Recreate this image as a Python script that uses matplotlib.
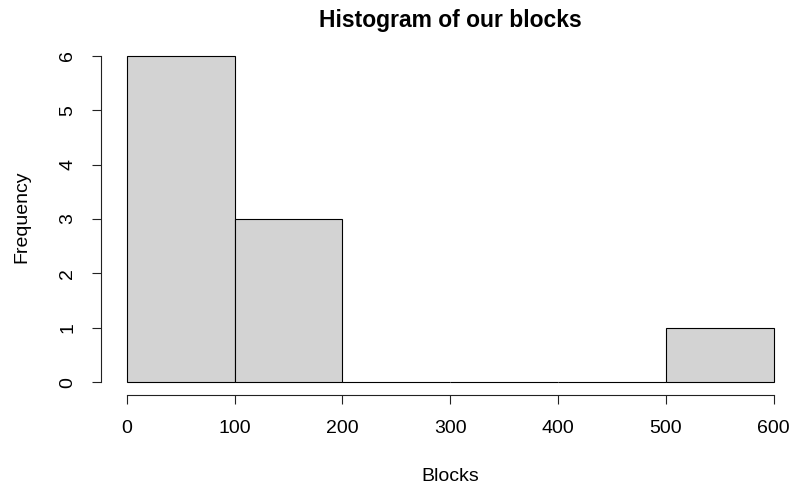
import matplotlib
matplotlib.use("Agg")
import matplotlib.pyplot as plt

bin_edges = [0, 100, 200, 300, 400, 500, 600]
counts = [6, 3, 0, 0, 0, 1]
x_ticks = [0, 100, 200, 300, 400, 500, 600]
y_ticks = [0, 1, 2, 3, 4, 5, 6]
title = "Histogram of our blocks"
xlabel = "Blocks"
ylabel = "Frequency"

plt.rcParams['font.family'] = ['Liberation Sans', 'DejaVu Sans']

W, H = 789, 488
fig = plt.figure(figsize=(W / 100, H / 100), dpi=100)
left_px, right_px, top_px, bot_px = 100.8, 799.5, 42.6, 395.4
ax = fig.add_axes([left_px / W, 1 - bot_px / H, (right_px - left_px) / W, (bot_px - top_px) / H])

widths = [bin_edges[i + 1] - bin_edges[i] for i in range(len(counts))]
ax.bar(bin_edges[:-1], counts, width=widths, align='edge', color='#D3D3D3',
       edgecolor='black', linewidth=0.8)

ax.set_xlim(-24, 624)
ax.set_ylim(-0.24, 6.24)
for s in ['top', 'right']:
    ax.spines[s].set_visible(False)
ax.spines['left'].set_bounds(0, 6)
ax.spines['bottom'].set_bounds(0, 600)
for s in ['left', 'bottom']:
    ax.spines[s].set_linewidth(0.8)
    ax.spines[s].set_color('#222222')

ax.set_xticks(x_ticks)
ax.set_yticks(y_ticks)
ax.tick_params(axis='both', direction='out', length=6.3, width=0.8, color='#222222',
               labelsize=14, pad=11.5)
for lab in ax.get_yticklabels():
    lab.set_rotation(90)
    lab.set_va('center')

fig.text(450 / W, 1 - 20 / H, title, ha='center', va='center', fontsize=16.5,
         fontweight='bold')
fig.text(450 / W, 1 - 476.5 / H, xlabel, ha='center', va='center', fontsize=14)
fig.text(22 / W, 1 - 217 / H, ylabel, ha='center', va='center', fontsize=14,
         rotation=90)

fig.savefig("out.png", dpi=100)
